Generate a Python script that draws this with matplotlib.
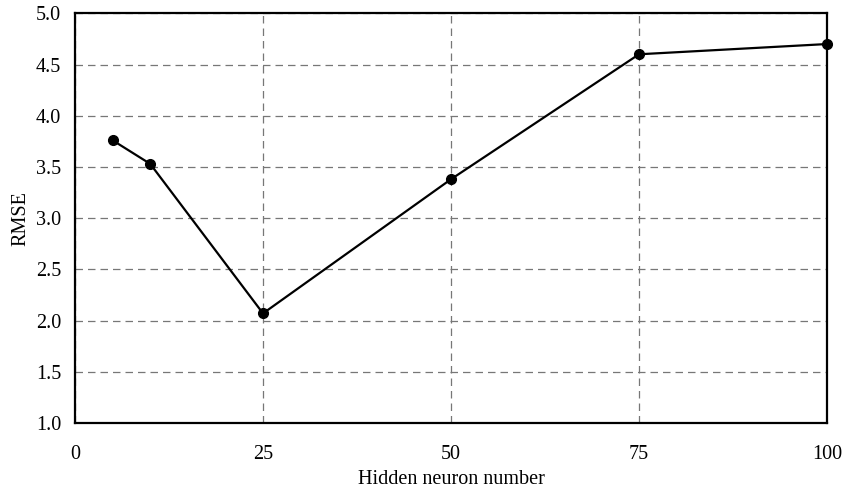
import matplotlib

matplotlib.use("Agg")
import matplotlib.pyplot as plt

# RMSE against hidden layer size
hidden_neurons = [5, 10, 25, 50, 75, 100]
rmse = [3.76, 3.53, 2.07, 3.38, 4.60, 4.70]

x_ticks = [0, 25, 50, 75, 100]
y_ticks = [1.0, 1.5, 2.0, 2.5, 3.0, 3.5, 4.0, 4.5, 5.0]

plt.rcParams["font.family"] = ["Liberation Serif", "DejaVu Serif"]

fig = plt.figure(figsize=(8.43, 4.93), dpi=100)
ax = fig.add_axes([0.089, 0.142, 0.892, 0.831])

ax.plot(hidden_neurons, rmse, color="black", lw=1.6, marker="o", ms=7,
        zorder=3, clip_on=False)

ax.set_xlim(0, 100)
ax.set_ylim(1.0, 5.0)
ax.set_xticks(x_ticks)
ax.set_yticks(y_ticks)
ax.set_yticklabels([f"{v:.1f}" for v in y_ticks])
ax.tick_params(length=0, labelsize=14.5, pad=10)
ax.tick_params(axis="x", pad=16)

ax.grid(True, color="#777777", ls=(0, (6, 4)), lw=0.9)
for s in ax.spines.values():
    s.set_linewidth(1.6)
    s.set_zorder(4)

ax.set_xlabel("Hidden neuron number", fontsize=14.5, labelpad=4)
ax.set_ylabel("RMSE", fontsize=14.5, labelpad=4)

fig.savefig("out.png", dpi=100)
